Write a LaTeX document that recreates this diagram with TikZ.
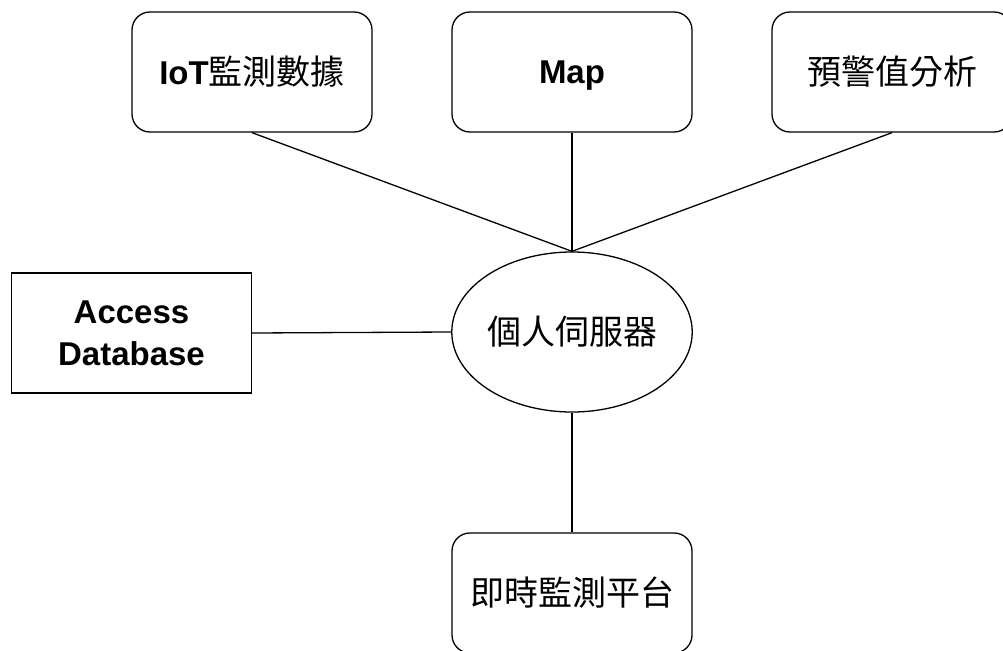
\documentclass[tikz,border=0pt]{standalone}
\usepackage{fontspec}
\setmainfont{Liberation Sans}
\newfontfamily\cjk{Noto Sans CJK TC}
\usetikzlibrary{shapes.geometric}
\begin{document}
\begin{tikzpicture}[x=1pt,y=-1pt,
  box/.style={draw, line width=1.3pt, minimum width=240pt, minimum height=120pt, inner sep=0pt, align=center, font=\fontsize{33}{40}\selectfont},
  rbox/.style={box, rounded corners=18pt},
  srvshape/.style={draw, line width=1.3pt, ellipse, minimum width=240pt, minimum height=160pt, inner sep=0pt, font=\fontsize{33}{40}\selectfont},
  conn/.style={line width=1.3pt}]
\useasboundingbox (0,0) rectangle (1003,650);
\clip (0,0) rectangle (1003,650);
\node[rbox] (iot) at (252,72) {\textbf{IoT}{\cjk\fontsize{34}{40}\selectfont 監測數據}};
\node[rbox, text depth=0pt] (map) at (572,72) {\textbf{Map}};
\node[rbox] (warn) at (892,72) {\cjk\fontsize{34}{40}\selectfont 預警值分析};
\node[box] (acc) at (131.5,333) {\textbf{Access}\\[2pt]\textbf{Database}};
\node[srvshape] (srv) at (572,332) {\cjk\fontsize{34}{40}\selectfont 個人伺服器};
\node[rbox] (rt) at (572,593) {\cjk\fontsize{34}{40}\selectfont 即時監測平台};
\draw[conn] (iot.south) -- (srv.north);
\draw[conn] (map.south) -- (srv.north);
\draw[conn] (warn.south) -- (srv.north);
\draw[conn] (acc.east) -- (srv.west);
\draw[conn] (srv.south) -- (rt.north);
\end{tikzpicture}
\end{document}
